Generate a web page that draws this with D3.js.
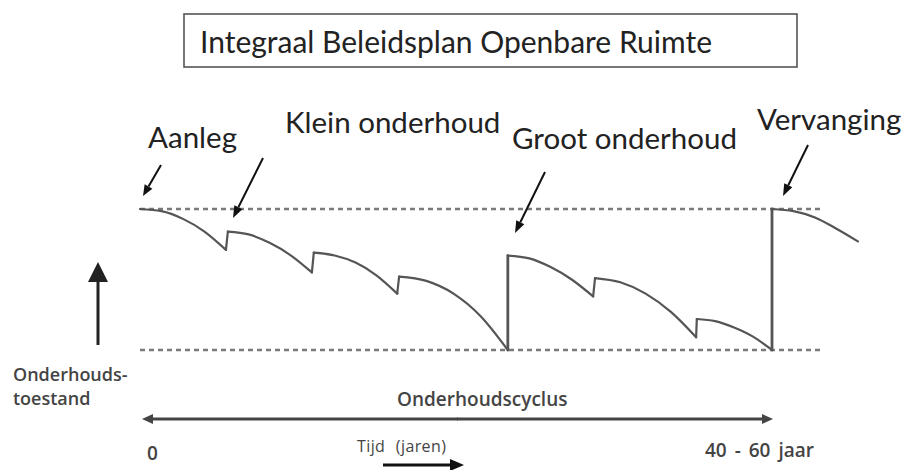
<!DOCTYPE html>
<html>
<head>
<meta charset="utf-8">
<script src="https://cdn.jsdelivr.net/npm/d3@7"></script>
<style>
  body { margin: 0; background: #fff; }
  svg { display: block; }
</style>
</head>
<body>
<div id="chart"></div>
<script>
// ---- data (time in % of the cycle, condition in % of new) ----
const title = "Integraal Beleidsplan Openbare Ruimte";
const eventLabels = ["Aanleg", "Klein onderhoud", "Groot onderhoud", "Vervanging"];
const yLabel = ["Onderhouds-", "toestand"];
const cycleLabel = "Onderhoudscyclus";
const timeLabel = "Tijd (jaren)";
const tickLabels = ["0", "40 - 60 jaar"];

// each decay arc
const seg1 = [[0, 100], [3.4, 98.5], [6.8, 93], [10.2, 84], [13.6, 71]];
const seg2 = [[13.9, 84], [17.2, 82], [20.5, 76], [23.9, 67], [27.2, 55]];
const seg3 = [[27.5, 69], [30.8, 67], [34.1, 62], [37.4, 53], [40.7, 40]];
const seg4 = [[41, 52], [45.3, 49], [49.6, 40], [53.9, 24], [58.2, 0]];
const seg5 = [[58.2, 67], [61.6, 65], [64.9, 59], [68.3, 50], [71.7, 38]];
const seg6 = [[72, 51], [76, 48], [80, 40], [84, 27], [88, 9]];
const seg7 = [[88.1, 22], [91, 20.5], [94, 16], [97, 9.5], [100, 0]];
const seg8 = [[100, 100], [103.4, 98.5], [106.8, 94], [110.2, 86], [113.6, 77]];
const segments = [seg1, seg2, seg3, seg4, seg5, seg6, seg7, seg8];

const levels = [100, 0];   // dashed reference lines
const levelEnd = 108;      // how far the dashed lines run

const width = 901, height = 470;

const svg = d3.select("#chart")
    .append("svg")
    .attr("width", width)
    .attr("height", height);

const x = d3.scaleLinear().domain([0, 100]).range([140, 772]);
const y = d3.scaleLinear().domain([0, 100]).range([350, 209]);

// ==========================
// Title box
// ==========================
svg.append("rect")
    .attr("x", 184).attr("y", 14)
    .attr("width", 613).attr("height", 53)
    .attr("fill", "#fff")
    .attr("stroke", "#555")
    .attr("stroke-width", 1.6);

svg.append("text")
    .attr("x", 200).attr("y", 53)
    .attr("font-family", "Lato, sans-serif")
    .attr("font-size", 30)
    .attr("fill", "#222")
    .text(title);

// ==========================
// Dashed levels
// ==========================
svg.selectAll(".level")
    .data(levels)
    .enter()
    .append("line")
    .attr("class", "level")
    .attr("x1", x(0))
    .attr("x2", x(levelEnd))
    .attr("y1", d => y(d))
    .attr("y2", d => y(d))
    .attr("stroke", "#7a7a7a")
    .attr("stroke-width", 2.5)
    .attr("stroke-dasharray", "5,4");

// ==========================
// Condition curve
// ==========================
const line = d3.line()
    .x(d => x(d[0]))
    .y(d => y(d[1]))
    .curve(d3.curveMonotoneX);

svg.selectAll(".arc")
    .data(segments)
    .enter()
    .append("path")
    .attr("class", "arc")
    .attr("d", line)
    .attr("fill", "none")
    .attr("stroke", "#555")
    .attr("stroke-width", 2.2)
    .attr("stroke-linecap", "round");

// jumps between arcs
svg.selectAll(".jump")
    .data(d3.pairs(segments))
    .enter()
    .append("line")
    .attr("class", "jump")
    .attr("x1", d => x(d[0][d[0].length - 1][0]))
    .attr("y1", d => y(d[0][d[0].length - 1][1]))
    .attr("x2", d => x(d[1][0][0]))
    .attr("y2", d => y(d[1][0][1]))
    .attr("stroke", "#555")
    .attr("stroke-width", d => (d[1][0][1] - d[0][d[0].length - 1][1]) > 50 ? 2.8 : 2.2)
    .attr("stroke-linecap", "round");

// ==========================
// Arrows
// ==========================
function arrow(x1, y1, x2, y2, w, len, headW, color) {
    const a = Math.atan2(y2 - y1, x2 - x1);
    const bx = x2 - len * Math.cos(a), by = y2 - len * Math.sin(a);
    svg.append("line")
        .attr("x1", x1).attr("y1", y1)
        .attr("x2", bx).attr("y2", by)
        .attr("stroke", color)
        .attr("stroke-width", w);
    const px = -Math.sin(a) * headW / 2, py = Math.cos(a) * headW / 2;
    svg.append("path")
        .attr("d", `M${x2},${y2}L${bx + px},${by + py}L${bx - px},${by - py}Z`)
        .attr("fill", color);
}

// pointers to the events
arrow(161, 165, 143, 196, 2, 11, 9, "#111");
arrow(263, 158, 233, 218, 2, 12, 9, "#111");
arrow(545, 172, 515, 233, 2, 12, 9, "#111");
arrow(808, 145, 783, 196, 2, 12, 9, "#111");

// condition axis
arrow(98, 345, 98, 262, 3, 20, 20, "#222");

// cycle double arrow
arrow(458, 419, 142, 419, 3, 11, 10, "#444");
arrow(457, 419, 773, 419, 3, 11, 10, "#444");

// time arrow
arrow(383, 465, 464, 465, 3, 14, 12, "#111");

// ==========================
// Labels
// ==========================
const labelPos = [[148, 148], [285, 133], [512, 149], [757, 130]];
svg.selectAll(".event")
    .data(eventLabels)
    .enter()
    .append("text")
    .attr("class", "event")
    .attr("x", (d, i) => labelPos[i][0])
    .attr("y", (d, i) => labelPos[i][1])
    .attr("font-family", "Lato, sans-serif")
    .attr("font-size", 29.5)
    .attr("fill", "#222")
    .text(d => d);

const small = svg.append("g")
    .attr("font-family", "'Open Sans', sans-serif")
    .attr("font-weight", 600)
    .attr("fill", "#444");

small.selectAll(".ylab")
    .data(yLabel)
    .enter()
    .append("text")
    .attr("x", 13)
    .attr("y", (d, i) => 381 + i * 24)
    .attr("font-size", 18)
    .text(d => d);

small.append("text")
    .attr("x", 397).attr("y", 406)
    .attr("font-size", 19)
    .text(cycleLabel);

small.append("text")
    .attr("x", x(0) + 7).attr("y", 460)
    .attr("font-size", 19)
    .text(tickLabels[0]);

small.append("text")
    .attr("x", 705).attr("y", 457)
    .attr("font-size", 19)
    .attr("word-spacing", 3)
    .text(tickLabels[1]);

small.append("text")
    .attr("x", 357).attr("y", 452)
    .attr("font-size", 16)
    .attr("font-weight", 400)
    .attr("word-spacing", 6)
    .attr("letter-spacing", 0.4)
    .text(timeLabel);
</script>
</body>
</html>
